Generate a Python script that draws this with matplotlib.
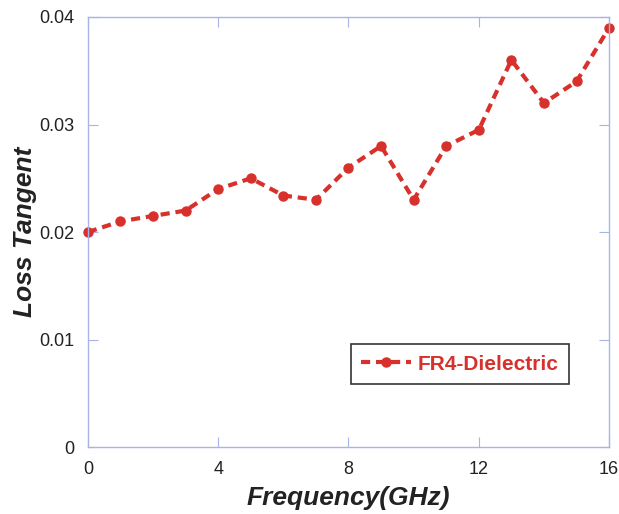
import matplotlib.pyplot as plt
import numpy as np

plt.rcParams['font.family'] = ['Liberation Sans', 'DejaVu Sans']

# frekans (GHz) ve kayip tanjanti degerleri
frekans = [0, 1, 2, 3, 4, 5, 6, 7, 8, 9, 10, 11, 12, 13, 14, 15, 16]
kayip = [0.0200, 0.0210, 0.0215, 0.0220, 0.0240, 0.0250, 0.0234, 0.0230,
         0.0260, 0.0280, 0.0230, 0.0280, 0.0295, 0.0360, 0.0320, 0.0340, 0.0390]
x_ticks = [0, 4, 8, 12, 16]
y_ticks = [0, 0.01, 0.02, 0.03, 0.04]
y_labels = ["0", "0.01", "0.02", "0.03", "0.04"]

kirmizi = "#d8302b"
cerceve = "#a9b4e6"

fig = plt.figure(figsize=(6.19, 5.14), dpi=100)
ax = fig.add_axes([0.142, 0.130, 0.842, 0.837])

ax.plot(frekans, kayip, color=kirmizi, linestyle=(0, (2.2, 1.4)), linewidth=3,
        marker="o", markersize=6.5, label="FR4-Dielectric", clip_on=False)

ax.set_xlim(0, 16)
ax.set_ylim(0, 0.04)
ax.set_xticks(x_ticks)
ax.set_xticklabels([str(t) for t in x_ticks])
ax.set_yticks(y_ticks)
ax.set_yticklabels(y_labels)

for s in ax.spines.values():
    s.set_color(cerceve)
    s.set_linewidth(1)
ax.tick_params(direction="in", length=7, color=cerceve, labelsize=13,
               labelcolor="#222222", top=True, right=True, pad=10)

ax.set_xlabel("Frequency(GHz)", fontsize=19, fontweight="bold", style="italic",
              color="#222222", labelpad=6)
ax.set_ylabel("Loss Tangent", fontsize=19, fontweight="bold", style="italic",
              color="#222222", labelpad=1)

leg = ax.legend(loc="lower right", bbox_to_anchor=(0.923, 0.1465),
                prop={"weight": "bold", "size": 15}, fancybox=False,
                edgecolor="#333333", framealpha=1, handlelength=2.4,
                borderpad=0.5, handletextpad=0.3, borderaxespad=0)
leg.get_frame().set_linewidth(1.2)
for t in leg.get_texts():
    t.set_color(kirmizi)

fig.savefig("out.png", dpi=100)
